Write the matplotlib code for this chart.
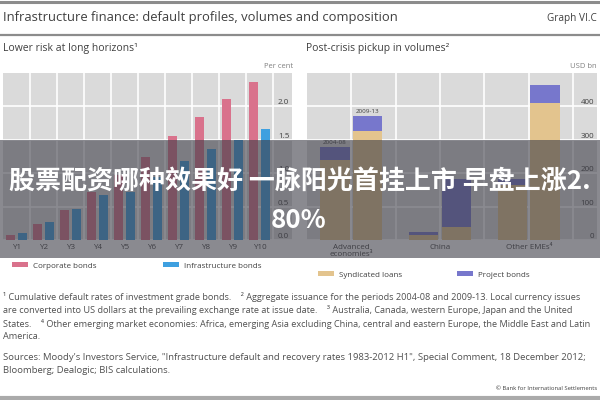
import numpy as np
import matplotlib.pyplot as plt
from matplotlib.patches import Rectangle
from matplotlib.lines import Line2D
from matplotlib.legend import Legend

plt.rcParams['font.family'] = ['Open Sans', 'DejaVu Sans']

# left panel: cumulative default rates, per cent
years = ['Y1', 'Y2', 'Y3', 'Y4', 'Y5', 'Y6', 'Y7', 'Y8', 'Y9', 'Y10']
corporate = [0.07, 0.24, 0.45, 0.72, 0.98, 1.25, 1.56, 1.84, 2.11, 2.37]
infra = [0.11, 0.27, 0.47, 0.67, 0.72, 0.95, 1.19, 1.36, 1.50, 1.66]

# right panel: issuance, USD bn (2004-08, 2009-13 per region)
regions = ['Advanced\neconomies³', 'China', 'Other EMEs⁴']
periods = ['2004-08', '2009-13']
loans_0408 = [241, 15, 165]
bonds_0408 = [36, 10, 18]
loans_0913 = [325, 38, 411]
bonds_0913 = [46, 144, 53]

PINK = '#d9728c'
BLUE = '#3ea0e0'
TAN = '#e3c48e'
PURPLE = '#7777cc'
BG = '#dadada'
TXT = '#404040'

fig = plt.figure(figsize=(6, 4), dpi=100)

def px(x, y, w, h):
    return [x / 600, 1 - (y + h) / 400, w / 600, h / 400]

def style(ax):
    ax.set_facecolor(BG)
    for s in ax.spines.values():
        s.set_visible(False)
    ax.set_axisbelow(True)
    ax.yaxis.tick_right()
    ax.tick_params(which='both', length=0, labelsize=5.8, colors=TXT)
    ax.tick_params(axis='y', pad=-2)
    ax.tick_params(axis='x', pad=3)
    ax.grid(axis='y', color='white', lw=1.2)

# left chart
ax1 = fig.add_axes(px(3, 73, 289, 167))
style(ax1)
x = np.arange(len(years))
ax1.bar(x - 0.22, corporate, 0.34, color=PINK, label='Corporate bonds')
ax1.bar(x + 0.22, infra, 0.34, color=BLUE, label='Infrastructure bonds')
ax1.set_xlim(-0.5, 10.2)
ax1.set_ylim(0, 2.5)
ax1.set_xticks(x)
ax1.set_xticklabels(years)
ax1.set_xticks(np.arange(0.5, 10, 1), minor=True)
ax1.grid(axis='x', which='minor', color='white', lw=1.2)
ax1.set_yticks([0, 0.5, 1.0, 1.5, 2.0])
ax1.set_yticklabels(['0.0', '0.5', '1.0', '1.5', '2.0'])
plt.setp(ax1.get_yticklabels(), ha='right', va='bottom')

# right chart
ax2 = fig.add_axes(px(307, 73, 290, 167))
style(ax2)
g = np.arange(len(regions))
ax2.bar(g - 0.185, loans_0408, 0.33, color=TAN, label='Syndicated loans')
ax2.bar(g - 0.185, bonds_0408, 0.33, bottom=loans_0408, color=PURPLE, label='Project bonds')
ax2.bar(g + 0.185, loans_0913, 0.33, color=TAN)
ax2.bar(g + 0.185, bonds_0913, 0.33, bottom=loans_0913, color=PURPLE)
ax2.set_xlim(-0.5, 2.77)
ax2.set_ylim(0, 500)
ax2.set_xticks(g)
ax2.set_xticklabels(regions, linespacing=0.95, va='top')
ax2.set_xticks([0.5, 1.5, 2.5], minor=True)
ax2.grid(axis='x', which='both', color='white', lw=1.2)
ax2.set_yticks([0, 100, 200, 300, 400])
plt.setp(ax2.get_yticklabels(), ha='right', va='bottom')
for off, lo, bo, lab in [(-0.185, loans_0408, bonds_0408, periods[0]),
                         (0.185, loans_0913, bonds_0913, periods[1])]:
    ax2.annotate(lab, xy=(off, lo[0] + bo[0]), xytext=(0, 1.5),
                 textcoords='offset points', ha='center', va='bottom',
                 fontsize=4.5, color=TXT)

# legends, one entry each so they can sit where the original has them
def leg(ax, handle, label, xp, yp):
    l = Legend(ax, [handle], [label], loc='center left',
               bbox_to_anchor=(xp / 600, 1 - yp / 400),
               bbox_transform=fig.transFigure, frameon=False,
               fontsize=5.8, borderpad=0, borderaxespad=0,
               handlelength=2.0, handleheight=0.6, handletextpad=0.6,
               labelcolor=TXT)
    ax.add_artist(l)

h1, l1 = ax1.get_legend_handles_labels()
leg(ax1, h1[0], l1[0], 12, 266)
leg(ax1, h1[1], l1[1], 163, 266)
h2, l2 = ax2.get_legend_handles_labels()
leg(ax2, h2[0], l2[0], 318, 275)
leg(ax2, h2[1], l2[1], 457, 275)

# headings
fig.add_artist(Line2D([0, 1], [1 - 1.5 / 400] * 2, transform=fig.transFigure, color='#8c8c8c', lw=2.2))
fig.add_artist(Line2D([0, 1], [1 - 34.5 / 400] * 2, transform=fig.transFigure, color='#8c8c8c', lw=1.6))
fig.add_artist(Line2D([0, 1], [1 - 398 / 400] * 2, transform=fig.transFigure, color='#aaaaaa', lw=3))
fig.text(3 / 600, 1 - 18 / 400, 'Infrastructure finance: default profiles, volumes and composition',
         fontsize=9.4, color=TXT, va='center')
fig.text(597 / 600, 1 - 18 / 400, 'Graph VI.C', fontsize=7.2, color=TXT, va='center', ha='right')
fig.text(3 / 600, 1 - 48 / 400, 'Lower risk at long horizons¹', fontsize=7.5, color=TXT, va='center')
fig.text(306 / 600, 1 - 48 / 400, 'Post-crisis pickup in volumes²', fontsize=7.5, color=TXT, va='center')
fig.text(293 / 600, 1 - 66 / 400, 'Per cent', fontsize=5.5, color='#808080', va='center', ha='right')
fig.text(597 / 600, 1 - 66 / 400, 'USD bn', fontsize=5.5, color='#808080', va='center', ha='right')

notes = [
    '¹ Cumulative default rates of investment grade bonds.    ² Aggregate issuance for the periods 2004-08 and 2009-13. Local currency issues',
    'are converted into US dollars at the prevailing exchange rate at issue date.    ³ Australia, Canada, western Europe, Japan and the United',
    'States.    ⁴ Other emerging market economies: Africa, emerging Asia excluding China, central and eastern Europe, the Middle East and Latin',
    'America.',
]
for i, line in enumerate(notes):
    fig.text(3 / 600, 1 - (297 + 13.3 * i) / 400, line, fontsize=6.6, color='#505050', va='center')
sources = [
    'Sources: Moody\'s Investors Service, "Infrastructure default and recovery rates 1983-2012 H1", Special Comment, 18 December 2012;',
    'Bloomberg; Dealogic; BIS calculations.',
]
for i, line in enumerate(sources):
    fig.text(3 / 600, 1 - (357 + 13.3 * i) / 400, line, fontsize=6.8, color='#505050', va='center')
fig.text(597 / 600, 1 - 388 / 400, '© Bank for International Settlements', fontsize=4.2, color=TXT,
         va='center', ha='right')

# overlay banner
fig.add_artist(Rectangle((0, 1 - 258 / 400), 1, 118 / 400, transform=fig.transFigure,
                         facecolor=(0.24, 0.24, 0.28, 0.6), edgecolor='none', zorder=10))
cjk = ['Noto Sans CJK SC', 'DejaVu Sans']
fig.text(0.5, 1 - 181 / 400, '股票配资哪种效果好 一脉阳光首挂上市 早盘上涨2.', family=cjk,
         fontsize=18.7, fontweight='bold', color='white', ha='center', va='center', zorder=11)
fig.text(0.497, 1 - 220 / 400, '80%', family=cjk,
         fontsize=18.7, fontweight='bold', color='white', ha='center', va='center', zorder=11)

fig.savefig('out.png', dpi=100)
